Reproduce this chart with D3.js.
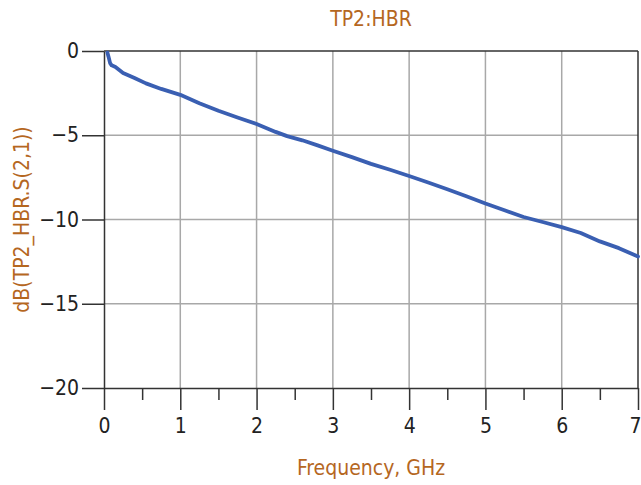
<!DOCTYPE html>
<html>
<head>
<meta charset="utf-8">
<script src="https://cdn.jsdelivr.net/npm/d3@7"></script>
<style>
  body { margin: 0; background: #fff; }
  svg { display: block; font-family: "DejaVu Sans Condensed", "Liberation Sans Narrow", sans-serif; }
</style>
</head>
<body>
<div id="chart"></div>
<script>
// S21 insertion loss
const freqGHz = [0.045, 0.06, 0.08, 0.1, 0.15, 0.25, 0.4, 0.55, 0.75, 1.0, 1.25, 1.5, 1.75, 2.0, 2.25, 2.4, 2.6, 2.8, 3.0,
  3.25, 3.5, 3.75, 4.0, 4.25, 4.5, 4.75, 5.0, 5.25, 5.5, 5.75, 6.0, 6.25, 6.5, 6.75, 7.0];
const s21dB = [-0.1, -0.35, -0.72, -0.85, -0.95, -1.3, -1.6, -1.92, -2.25, -2.6, -3.1, -3.55, -3.95, -4.33, -4.8, -5.05, -5.3, -5.6, -5.92,
  -6.3, -6.7, -7.05, -7.42, -7.8, -8.2, -8.62, -9.05, -9.45, -9.85, -10.15, -10.45, -10.8, -11.3, -11.7, -12.2];
const xTicks = [0, 1, 2, 3, 4, 5, 6, 7];
const xMinorTicks = [0.5, 1.5, 2.5, 3.5, 4.5, 5.5, 6.5];
const yTicks = [0, -5, -10, -15, -20];
const chartTitle = 'TP2:HBR';
const xTitle = 'Frequency, GHz';
const yTitle = 'dB(TP2_HBR.S(2,1))';

const width = 641, height = 485;
const margin = { top: 51, right: 3, bottom: 97, left: 104 };
const plotW = width - margin.left - margin.right;
const plotH = height - margin.top - margin.bottom;
const orange = '#b5671f';
const axisCol = '#333';
const fontSize = '21px';

const svg = d3.select('#chart').append('svg')
  .attr('width', width).attr('height', height);

const g = svg.append('g').attr('transform', 'translate(' + margin.left + ',' + margin.top + ')');

const x = d3.scaleLinear().domain([0, 7]).range([0, plotW]);
const y = d3.scaleLinear().domain([-20, 0]).range([plotH, 0]);

// grid
g.append('g').selectAll('line').data(xTicks.slice(1, -1)).join('line')
  .attr('x1', d => x(d)).attr('x2', d => x(d))
  .attr('y1', 0).attr('y2', plotH)
  .attr('stroke', '#a8a8a8').attr('stroke-width', 1.5);
g.append('g').selectAll('line').data(yTicks.slice(1, -1)).join('line')
  .attr('x1', 0).attr('x2', plotW)
  .attr('y1', d => y(d)).attr('y2', d => y(d))
  .attr('stroke', '#a8a8a8').attr('stroke-width', 1.5);

// frame top / right
g.append('line').attr('x1', 0).attr('x2', plotW).attr('y1', 0).attr('y2', 0)
  .attr('stroke', axisCol).attr('stroke-width', 1.5);
g.append('line').attr('x1', plotW).attr('x2', plotW).attr('y1', 0).attr('y2', plotH)
  .attr('stroke', axisCol).attr('stroke-width', 1.5);

// axes
const xAxis = d3.axisBottom(x).tickValues(xTicks).tickSize(22).tickPadding(8).tickSizeOuter(0).tickFormat(d3.format('d'));
const xg = g.append('g').attr('transform', 'translate(0,' + plotH + ')').call(xAxis);
g.append('g').attr('transform', 'translate(0,' + plotH + ')')
  .call(d3.axisBottom(x).tickValues(xMinorTicks).tickSize(12).tickSizeOuter(0).tickFormat(''))
  .call(s => s.select('.domain').remove())
  .selectAll('line').attr('stroke', axisCol).attr('stroke-width', 1.5);

const yAxis = d3.axisLeft(y).tickValues(yTicks).tickSize(22).tickPadding(3).tickSizeOuter(0)
  .tickFormat(d => d < 0 ? '\u2212' + Math.abs(d) : d);
const yg = g.append('g').call(yAxis);

[xg, yg].forEach(a => {
  a.select('.domain').attr('stroke', axisCol).attr('stroke-width', 1.5);
  a.selectAll('.tick line').attr('stroke', axisCol).attr('stroke-width', 1.5);
  a.selectAll('.tick text').attr('fill', '#222').style('font-size', fontSize)
    .style('font-family', '"DejaVu Sans Condensed", sans-serif');
});
// last x label sits against the right edge
xg.selectAll('.tick text').filter(d => d === 7).attr('text-anchor', 'end').attr('dx', 3);

// data line
const pts = freqGHz.map((f, i) => [f, s21dB[i]]);
g.append('path').datum(pts)
  .attr('fill', 'none')
  .attr('stroke', '#3a5fb2')
  .attr('stroke-width', 3.8)
  .attr('stroke-linejoin', 'round')
  .attr('stroke-linecap', 'round')
  .attr('d', d3.line().x(d => x(d[0])).y(d => y(d[1])));

// titles
svg.append('text').attr('x', margin.left + plotW / 2).attr('y', 26)
  .attr('text-anchor', 'middle').attr('fill', orange).style('font-size', fontSize)
  .text(chartTitle);
svg.append('text').attr('x', margin.left + plotW / 2).attr('y', 475)
  .attr('text-anchor', 'middle').attr('fill', orange).style('font-size', fontSize)
  .text(xTitle);
svg.append('text')
  .attr('transform', 'translate(29,' + (margin.top + plotH / 2) + ') rotate(-90)')
  .attr('text-anchor', 'middle').attr('fill', orange).style('font-size', fontSize)
  .text(yTitle);
</script>
</body>
</html>
